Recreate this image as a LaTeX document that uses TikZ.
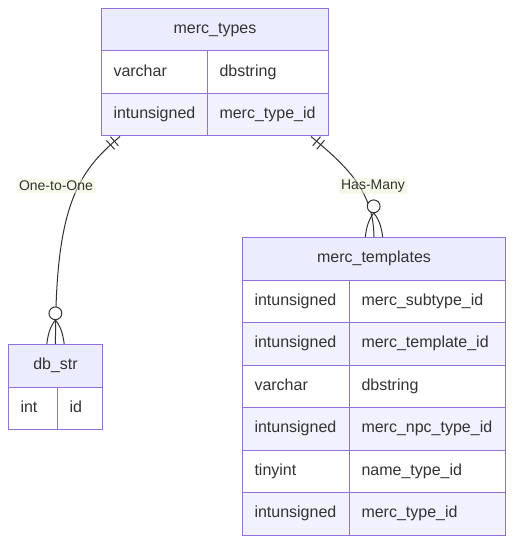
\documentclass[tikz,border=0pt]{standalone}
\usepackage{fontspec}
\setmainfont{Liberation Sans}
\usetikzlibrary{decorations.markings}
\definecolor{erline}{HTML}{9370DB}
\definecolor{erhead}{HTML}{ECECFF}
\definecolor{ereven}{HTML}{F1F1FF}
\definecolor{ertext}{HTML}{333333}
\definecolor{erlabel}{HTML}{EEF5D8}
\tikzset{
  ent/.style={draw=erline, line width=0.75pt, anchor=north west, minimum height=31.875pt,
    inner sep=0pt, text=ertext, text height=9pt, text depth=2.8pt,
    font=\fontsize{12}{14}\selectfont},
  head/.style={ent, fill=erhead, minimum width=#1},
  attr/.style={ent, text width=#1, align=left, inner xsep=9pt},
  rel/.style={draw=ertext, line width=0.75pt},
  onlyone/.style={postaction={decorate, decoration={markings,
    mark=at position 5.5pt with {\draw[rel] (0pt,-4.5pt) -- (0pt,4.5pt);},
    mark=at position 9.5pt with {\draw[rel] (0pt,-4.5pt) -- (0pt,4.5pt);}}}},
  zeromany/.style={postaction={decorate, decoration={markings,
    mark=at position 0.9999 with {
      \draw[rel] (-18pt,0pt) .. controls (-12pt,5pt) and (-4pt,6pt) .. (0pt,6.5pt);
      \draw[rel] (-18pt,0pt) .. controls (-12pt,-5pt) and (-4pt,-6pt) .. (0pt,-6.5pt);
      \draw[rel, fill=white] (-23pt,0pt) circle (4.8pt);}}}},
  rellabel/.style={fill=erlabel, fill opacity=0.5, text opacity=1, text=ertext,
    inner sep=1.5pt, font=\fontsize{10.5}{12}\selectfont}
}
\begin{document}
\begin{tikzpicture}[x=0.75pt, y=-0.75pt]
    \useasboundingbox (0,0) rectangle (513,545);
    % merc_types
    \node[head=170.25pt] (types) at (101,8) {merc\_types};
    \node[attr=61.5pt, fill=white] (types-vc) at (101,50.5) {varchar};
    \node[attr=72.75pt, fill=white] (types-dbs) at (207,50.5) {dbstring};
    \node[attr=61.5pt, fill=ereven] (types-iu) at (101,93) {intunsigned};
    \node[attr=72.75pt, fill=ereven] (types-id) at (207,93) {merc\_type\_id};
    % db_str
    \node[head=70.5pt] (dbstr) at (8,344) {db\_str};
    \node[attr=18.75pt, fill=white] (dbstr-int) at (8,386.5) {int};
    \node[attr=15.75pt, fill=white] (dbstr-id) at (57,386.5) {id};
    % merc_templates
    \node[head=197.25pt] (tpl) at (242,237) {merc\_templates};
    \foreach \bg/\ty/\nm [count=\i] in {white/intunsigned/merc\_subtype\_id,
        ereven/intunsigned/merc\_template\_id, white/varchar/dbstring,
        ereven/intunsigned/merc\_npc\_type\_id, white/tinyint/name\_type\_id,
        ereven/intunsigned/merc\_type\_id}{
      \node[attr=62.25pt, fill=\bg] (tpl-t\i) at (242,{237+42.5*\i}) {\ty};
      \node[attr=99pt, fill=\bg] (tpl-n\i) at (349,{237+42.5*\i}) {\nm};
    }
    % relationships
    \draw[rel, onlyone, zeromany] ([xshift=14.25pt]types-iu.south west)
      .. controls (78,172) and (55,205) .. (dbstr.north);
    \draw[rel, onlyone, zeromany] ([xshift=-13.5pt]types-id.south east)
      .. controls (345,165) and (373.5,190) .. (tpl.north);
    \node[rellabel] (one) at (56,186) {One-to-One};
    \node[rellabel] (many) at (373,186) {Has-Many};
\end{tikzpicture}
\end{document}
